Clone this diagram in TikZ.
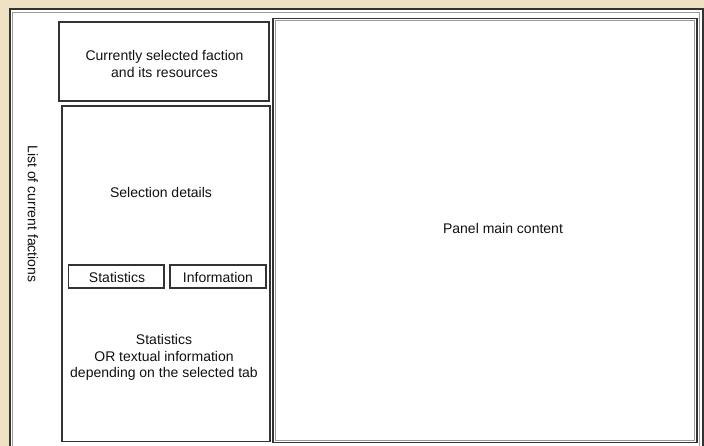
\documentclass[tikz,border=0pt]{standalone}
\usepackage{fontspec}
\setmainfont{Liberation Sans}
\definecolor{parch}{HTML}{EFE1C4}
\definecolor{edge}{HTML}{333333}
\definecolor{edgelt}{HTML}{9A9A9A}
\definecolor{txt}{HTML}{111111}
\begin{document}
\begin{tikzpicture}[x=1pt,y=-1pt,
  boxstyle/.style={draw=edge, line width=1.6pt, fill=white},
  lbl/.style={text=txt, font=\fontsize{14}{16.5}\selectfont, align=center, inner sep=0pt}]
\useasboundingbox (0,0) rectangle (704,446);
\clip (0,0) rectangle (704,446);
\fill[parch] (0,0) rectangle (704,446);
% outer frame
\draw[draw=edge, line width=2pt, fill=white] (9.5,9) rectangle (702.5,470);
\draw[draw=edgelt, line width=1pt] (12.5,12.5) rectangle (699.5,470);
% boxes
\draw[boxstyle] (59,22) rectangle (269,101);
\draw[boxstyle] (62,106) rectangle (270,441.5);
\draw[boxstyle] (273,18.5) rectangle (697,442.5);
\draw[draw=edgelt, line width=0.8pt] (275.3,20.8) rectangle (694.7,440.2);
\draw[boxstyle] (68.5,265) rectangle (164,288);
\draw[boxstyle] (170,265) rectangle (266,288);
% nodes
\node[lbl] (faction) at (164.5,64) {Currently selected faction\\and its resources};
\node[lbl] (details) at (161,192) {Selection details};
\node[lbl] (panel) at (503,228) {Panel main content};
\node[lbl, rotate=-90] (list) at (33,214) {List of current factions};
\node[lbl] (stattab) at (117,277) {Statistics};
\node[lbl] (infotab) at (218,277) {Information};
\node[lbl] (stats) at (164,357.5) {Statistics\\OR textual information\\depending on the selected tab};
\end{tikzpicture}
\end{document}
